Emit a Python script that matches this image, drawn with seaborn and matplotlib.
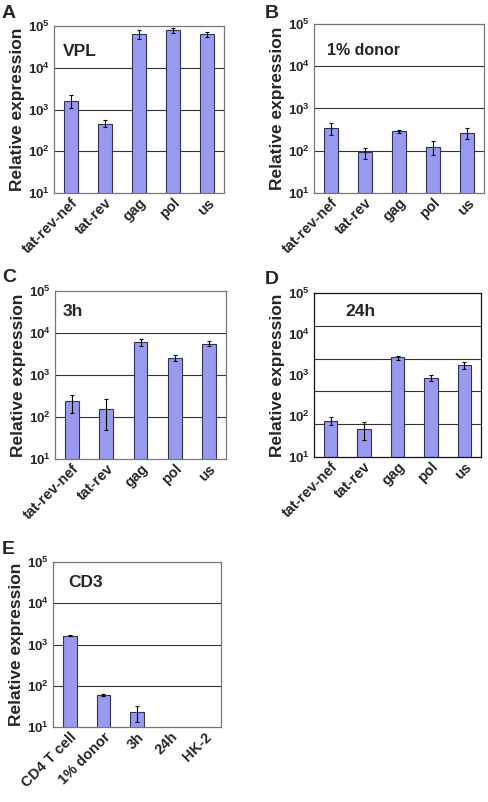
import numpy as np
import pandas as pd
import matplotlib
matplotlib.use("Agg")
import matplotlib.pyplot as plt
from matplotlib.ticker import NullLocator
import seaborn as sns

sns.set_theme(style="white")
plt.rcParams['font.family'] = ['Liberation Sans', 'DejaVu Sans']
plt.rcParams['mathtext.fontset'] = 'custom'
plt.rcParams['mathtext.rm'] = 'Liberation Sans'
plt.rcParams['mathtext.bf'] = 'Liberation Sans:bold'

# ---------------- data ----------------
genes = ["tat-rev-nef", "tat-rev", "gag", "pol", "us"]

vpl_vals = [1600, 460, 64000, 79000, 63000]
vpl_lo = [1100, 384, 48000, 67000, 55000]
vpl_hi = [2170, 555, 80000, 90000, 72000]

donor_vals = [349, 93, 286, 124, 261]
donor_lo = [239, 65, 261, 81, 189]
donor_hi = [458, 116, 313, 169, 337]

h3_vals = [234, 154, 6250, 2560, 5610]
h3_lo = [126, 49, 5020, 2170, 4840]
h3_hi = [338, 267, 7360, 2960, 6490]

h24_vals = [74, 49, 2700, 860, 1720]
h24_lo = [59, 26.5, 2370, 700, 1430]
h24_hi = [95, 70, 2960, 1000, 2080]

cd3_cats = ["CD4 T cell", "1% donor", "3h", "24h", "HK-2"]
cd3_vals = [1650, 60, 23, np.nan, np.nan]
cd3_lo = [1620, 57, 13, np.nan, np.nan]
cd3_hi = [1700, 64, 32, np.nan, np.nan]

ytick_vals = [1e1, 1e2, 1e3, 1e4, 1e5]
ytick_labels = [r'$\mathbf{10^{%d}}$' % k for k in range(1, 6)]

BAR = "#9999f0"
EDGE = "#33335a"
GRID = "#333333"

W, H = 488, 802
fig = plt.figure(figsize=(W / 100, H / 100), dpi=100)


def make_ax(left, right, top, bottom):
    return fig.add_axes([left / W, 1 - bottom / H, (right - left) / W, (bottom - top) / H])


def panel(ax, cats, vals, lo, hi, title, title_xy, title_size=12.5,
          grid_vals=(1e2, 1e3, 1e4)):
    df = pd.DataFrame({"cat": cats, "val": vals})
    sns.barplot(data=df, x="cat", y="val", order=cats, ax=ax, color=BAR,
                saturation=1, width=0.4, edgecolor=EDGE, linewidth=0.8,
                errorbar=None)
    ax.set_yscale("log")
    ax.set_ylim(1e1, 1e5)
    ax.set_xlim(-0.5, len(cats) - 0.5)
    for g in grid_vals:
        ax.axhline(g, color=GRID, lw=0.8, zorder=0.5)
    v = np.array(vals, dtype=float)
    l = np.array(lo, dtype=float)
    h = np.array(hi, dtype=float)
    ax.errorbar(np.arange(len(cats)), v, yerr=[v - l, h - v], fmt="none",
                ecolor="black", elinewidth=0.8, capsize=1.6, capthick=0.8,
                zorder=5)
    ax.set_yticks(ytick_vals)
    ax.set_yticklabels(ytick_labels)
    ax.yaxis.set_minor_locator(NullLocator())
    ax.tick_params(axis="y", length=0, pad=3, labelsize=9.5)
    ax.tick_params(axis="x", length=0, pad=2)
    ax.set_xticks(range(len(cats)))
    ax.set_xticklabels(cats, rotation=45, ha="right", rotation_mode="anchor",
                       fontsize=10.5, fontweight="bold")
    ax.set_xlabel("")
    ax.set_ylabel("Relative expression", fontsize=12.5, fontweight="bold",
                  labelpad=2)
    for s in ax.spines.values():
        s.set_color("#777777")
        s.set_linewidth(0.9)
    ax.text(title_xy[0], title_xy[1], title, transform=ax.transAxes,
            fontsize=title_size, fontweight="bold", va="center", ha="left")


axA = make_ax(54, 224, 26, 193)
panel(axA, genes, vpl_vals, vpl_lo, vpl_hi, "VPL", (0.055, 0.845))

axB = make_ax(314, 484, 24, 193)
panel(axB, genes, donor_vals, donor_lo, donor_hi, "1% donor", (0.076, 0.846),
      title_size=11.5)

axC = make_ax(55, 226, 291, 459)
panel(axC, genes, h3_vals, h3_lo, h3_hi, "3h", (0.045, 0.875))

axD = make_ax(314, 481, 293, 457)
panel(axD, genes, h24_vals, h24_lo, h24_hi, "24h", (0.185, 0.885),
      grid_vals=(10 ** 1.8, 10 ** 2.6, 10 ** 3.4, 10 ** 4.2))
for s in axD.spines.values():
    s.set_color("#111111")

axE = make_ax(53, 221, 562, 727)
panel(axE, cd3_cats, cd3_vals, cd3_lo, cd3_hi, "CD3", (0.09, 0.875))

for letter, x, y in [("A", 2, 13), ("B", 265, 13), ("C", 2, 277),
                     ("D", 265, 280), ("E", 2, 549)]:
    fig.text(x / W, 1 - y / H, letter, fontsize=14, fontweight="bold",
             ha="left", va="center")

fig.savefig("out.png", dpi=100)
